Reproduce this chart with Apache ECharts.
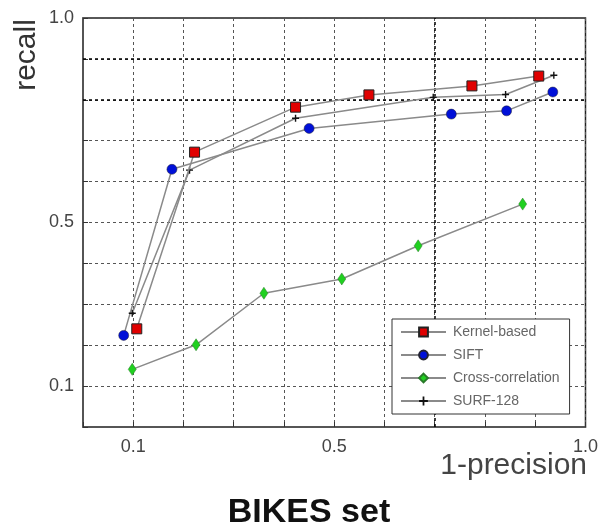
<!DOCTYPE html>
<html>
<head>
<meta charset="utf-8">
<script src="https://cdn.jsdelivr.net/npm/echarts@6/dist/echarts.min.js"></script>
<style>
  html, body { margin: 0; padding: 0; background: #fff; }
  #chart { width: 601px; height: 532px; }
</style>
</head>
<body>
<div id="chart"></div>
<script>
// values (x = 1-precision, y = recall)
const kernelX = [0.107, 0.222, 0.423, 0.569, 0.774, 0.907]
const kernelY = [0.240, 0.672, 0.782, 0.812, 0.834, 0.858]
const siftX = [0.081, 0.177, 0.450, 0.733, 0.843, 0.935]
const siftY = [0.224, 0.630, 0.730, 0.765, 0.773, 0.819]
const crossX = [0.098, 0.225, 0.360, 0.515, 0.667, 0.875]
const crossY = [0.141, 0.201, 0.327, 0.362, 0.443, 0.545]
const surfX = [0.098, 0.212, 0.423, 0.697, 0.841, 0.937]
const surfY = [0.278, 0.628, 0.755, 0.806, 0.813, 0.860]
const tickLabels = ['0.1', '0.5', '1.0']

const pairs = (xs, ys) => xs.map((x, i) => [x, ys[i]])
const font = 'Liberation Sans, Arial, sans-serif'
const showTick = v => tickLabels.includes(v.toFixed(1)) ? v.toFixed(1) : ''

const lineStyle = { color: '#8a8a8a', width: 1.5 }
const gridLine = { show: true, lineStyle: { color: '#555', type: [3, 3], width: 1 } }

const chart = echarts.init(document.getElementById('chart'))

chart.setOption({
  backgroundColor: '#fff',
  animation: false,
  grid: {
    left: 83, top: 18, width: 504, height: 409,
    show: true, borderColor: '#222', borderWidth: 1.5
  },
  legend: {
    orient: 'vertical',
    left: 392, top: 319,
    padding: [6, 10, 6, 8],
    itemWidth: 45, itemHeight: 11, itemGap: 9,
    borderColor: '#333', borderWidth: 1,
    backgroundColor: '#fff',
    textStyle: { fontFamily: font, fontSize: 14, color: '#666', padding: [0, 0, 0, 2] },
    data: ['Kernel-based', 'SIFT', 'Cross-correlation', 'SURF-128']
  },
  xAxis: {
    type: 'value', min: 0, max: 1, interval: 0.1,
    axisLine: { show: true, lineStyle: { color: '#555', width: 1.5 } },
    axisTick: { show: true, inside: true, length: 5, lineStyle: { color: '#333' } },
    axisLabel: { formatter: showTick, fontFamily: font, fontSize: 18, color: '#444', margin: 11, showMaxLabel: true },
    splitLine: gridLine
  },
  yAxis: {
    type: 'value', min: 0, max: 1, interval: 0.1,
    axisLine: { show: true, lineStyle: { color: '#555', width: 1.5 } },
    axisTick: { show: true, inside: true, length: 5, lineStyle: { color: '#333' } },
    axisLabel: { formatter: showTick, fontFamily: font, fontSize: 18, color: '#444', margin: 9 },
    splitLine: gridLine
  },
  graphic: [
    {
      type: 'text', x: 27, y: 55, rotation: Math.PI / 2,
      style: { text: 'recall', font: '30px ' + font, fill: '#333', align: 'center', verticalAlign: 'middle' }
    },
    {
      type: 'text', x: 587, y: 466,
      style: { text: '1-precision', font: '30px ' + font, fill: '#444', align: 'right', verticalAlign: 'middle' }
    },
    {
      type: 'text', x: 309, y: 513,
      style: { text: 'BIKES set', font: 'bold 34px ' + font, fill: '#111', align: 'center', verticalAlign: 'middle' }
    }
  ],
  series: [
    {
      name: 'Kernel-based', type: 'line', data: pairs(kernelX, kernelY),
      symbol: 'rect', symbolSize: 10,
      itemStyle: { color: '#e00000', borderColor: '#222', borderWidth: 1 },
      lineStyle: lineStyle, z: 4,
      markLine: {
        silent: true, symbol: 'none', label: { show: false },
        lineStyle: { color: '#000', type: [3, 3], width: 1.5 },
        data: [{ yAxis: 0.9 }, { yAxis: 0.8 }, { xAxis: 0.7 }],
        z: 1
      }
    },
    {
      name: 'SIFT', type: 'line', data: pairs(siftX, siftY),
      symbol: 'circle', symbolSize: 10,
      itemStyle: { color: '#0010d8', borderColor: '#223', borderWidth: 0.5 },
      lineStyle: lineStyle, z: 3
    },
    {
      name: 'Cross-correlation', type: 'line', data: pairs(crossX, crossY),
      symbol: 'diamond', symbolSize: [8, 12],
      itemStyle: { color: '#20d020', borderColor: '#2a7a2a', borderWidth: 0.5 },
      lineStyle: lineStyle, z: 3
    },
    {
      name: 'SURF-128', type: 'line', data: pairs(surfX, surfY),
      symbol: 'path://M4,0H6V4H10V6H6V10H4V6H0V4H4Z', symbolSize: 7,
      itemStyle: { color: '#111' },
      lineStyle: lineStyle, z: 3
    }
  ]
})
</script>
</body>
</html>
